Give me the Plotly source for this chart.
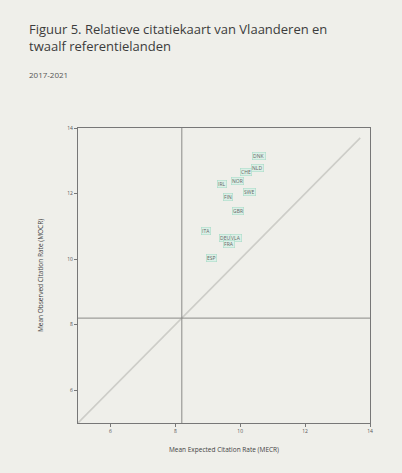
import plotly.graph_objects as go

countries = ["DNK", "NLD", "CHE", "IRL", "NOR", "SWE", "FIN", "GBR", "ITA", "DEU", "VLA", "FRA", "ESP"]
mecr = [10.57, 10.54, 10.17, 9.43, 9.92, 10.29, 9.61, 9.92, 8.96, 9.54, 9.88, 9.64, 9.12]
mocr = [13.15, 12.78, 12.66, 12.29, 12.38, 12.05, 11.90, 11.47, 10.86, 10.65, 10.65, 10.47, 10.04]
world_mecr = 8.2
world_mocr = 8.2
axis_range = [5, 14]
tick_vals = [6, 8, 10, 12, 14]

bg = "#efefea"
fig = go.Figure()

# diagonal y = x
fig.add_trace(go.Scatter(x=[5, 13.7], y=[5, 13.7], mode="lines",
                         line=dict(color="#cdcdc8", width=1.6), hoverinfo="skip", showlegend=False))
# reference lines
fig.add_trace(go.Scatter(x=[world_mecr, world_mecr], y=axis_range, mode="lines",
                         line=dict(color="#8a8a86", width=1), hoverinfo="skip", showlegend=False))
fig.add_trace(go.Scatter(x=axis_range, y=[world_mocr, world_mocr], mode="lines",
                         line=dict(color="#8a8a86", width=1), hoverinfo="skip", showlegend=False))

fig.add_trace(go.Scatter(x=mecr, y=mocr, mode="markers",
                         marker=dict(size=2, color="rgba(0,0,0,0)"), showlegend=False))

for c, xv, yv in zip(countries, mecr, mocr):
    fig.add_annotation(x=xv, y=yv, text=c, showarrow=False,
                       font=dict(family="Open Sans", size=5, color="#666"),
                       bgcolor="#dcf0e7", bordercolor="#a8dcc8", borderwidth=0.6, borderpad=0.5)

fig.update_xaxes(range=axis_range, tickvals=tick_vals, showgrid=False, zeroline=False,
                 showline=True, linecolor="#777", linewidth=1.2, mirror=True,
                 ticks="outside", ticklen=3, tickcolor="#777",
                 tickfont=dict(size=5, color="#555", family="Open Sans"),
                 title=dict(text="Mean Expected Citation Rate (MECR)", standoff=14,
                            font=dict(size=6.5, color="#444", family="Open Sans")))
fig.update_yaxes(range=axis_range, tickvals=tick_vals, showgrid=False, zeroline=False,
                 showline=True, linecolor="#777", linewidth=1.2, mirror=True,
                 ticks="outside", ticklen=3, tickcolor="#777",
                 tickfont=dict(size=5, color="#555", family="Open Sans"),
                 title=dict(text="Mean Observed Citation Rate (MOCR)", standoff=22,
                            font=dict(size=6.5, color="#444", family="Open Sans")))

H = 295.0
def py(ypix):
    return (423 - ypix) / H

fig.add_annotation(xref="paper", yref="paper", x=-0.175, y=py(37.5), xanchor="left", yanchor="middle",
                   text="Figuur 5. Relatieve citatiekaart van Vlaanderen en<br>twaalf referentielanden",
                   showarrow=False, align="left",
                   font=dict(family="Open Sans", size=13, color="#3c3c3c"))
fig.add_annotation(xref="paper", yref="paper", x=-0.175, y=py(74), xanchor="left", yanchor="middle",
                   text="2017-2021", showarrow=False, align="left",
                   font=dict(family="Open Sans", size=8, color="#555"))

fig.update_layout(width=402, height=473, margin=dict(l=78, r=32, t=128, b=50),
                  paper_bgcolor=bg, plot_bgcolor=bg, showlegend=False)

fig.write_html("out.html", config={"displayModeBar": False},
               post_script="document.body.style.margin='0';document.body.style.background='%s';" % bg)
